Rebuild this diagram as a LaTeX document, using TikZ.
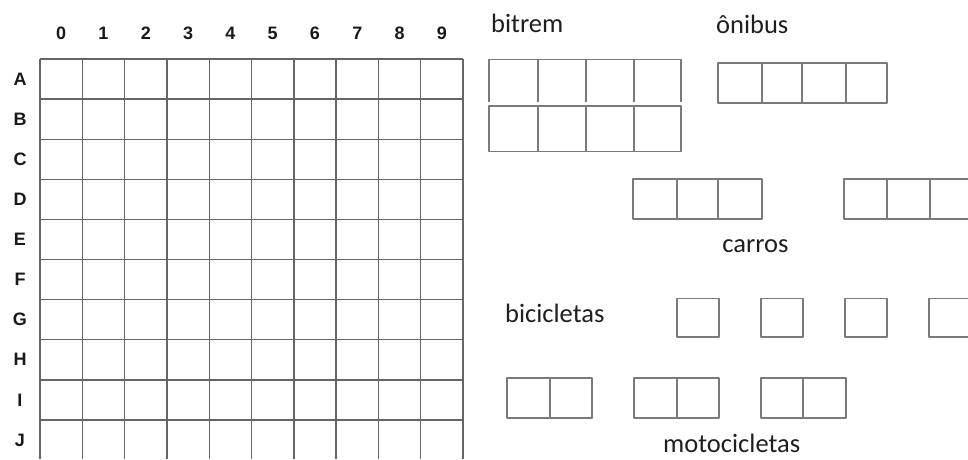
\documentclass[tikz,border=0pt]{standalone}
\usepackage{fontspec}
\setmainfont{Carlito}
\newfontfamily\gridfont{Liberation Sans}
\begin{document}
\begin{tikzpicture}[x=1pt,y=-1pt,
  gridline/.style={draw=black!60, line width=1.4pt},
  boxline/.style={draw=black!52, line width=1.4pt, line join=round},
  glabel/.style={font=\gridfont\bfseries\fontsize{18}{18}\selectfont, text=black!90, inner sep=0pt},
  vlabel/.style={font=\fontsize{26.5}{26.5}\selectfont, text=black!88, inner sep=0pt, anchor=base west}]
\useasboundingbox (0,0) rectangle (968,459);
\fill[white] (0,0) rectangle (968,459);
% grid
\foreach \k in {0,...,10} {
  \draw[gridline] ({40+42.3*\k},59) -- ({40+42.3*\k},459);
}
\foreach \k in {0,...,9} {
  \draw[gridline] (40,{59+40.1*\k}) -- (463,{59+40.1*\k});
}
\foreach \d in {0,...,9} {
  \node[glabel] (col\d) at ({61.2+42.3*\d},33) {\d};
}
\foreach \r [count=\i from 0] in {A,B,C,D,E,F,G,H,I,J} {
  \node[glabel] (row\r) at (20,{79+40.1*\i}) {\r};
}
% bitrem
\node[vlabel] (bitrem) at (491,32) {bitrem};
\draw[boxline] (489,101.5) -- (489,59.5) -- (681,59.5) -- (681,101.5);
\foreach \x in {538,586,634} \draw[boxline] (\x,59.5) -- (\x,101.5);
\draw[boxline] (489,106) rectangle (681,151.5);
\foreach \x in {538,586,634} \draw[boxline] (\x,106) -- (\x,151.5);
% onibus
\node[vlabel] (onibus) at (716,33) {ônibus};
\draw[boxline] (718,63) rectangle (887,103);
\foreach \x in {762,802,846} \draw[boxline] (\x,63) -- (\x,103);
% carros
\draw[boxline] (633,179) rectangle (762,219);
\foreach \x in {677,718} \draw[boxline] (\x,179) -- (\x,219);
\draw[boxline] (968,179) -- (844,179) -- (844,219) -- (968,219);
\foreach \x in {887,930} \draw[boxline] (\x,179) -- (\x,219);
\node[vlabel, anchor=base] (carros) at (755.5,252) {carros};
% bicicletas
\node[vlabel] (bicicletas) at (505,322) {bicicletas};
\draw[boxline] (677,298.5) rectangle (719,337);
\draw[boxline] (761,298.5) rectangle (803,337);
\draw[boxline] (845,298.5) rectangle (887,337);
\draw[boxline] (968,298.5) -- (929,298.5) -- (929,337) -- (968,337);
% motocicletas
\draw[boxline] (507,378) rectangle (592,418);
\draw[boxline] (550,378) -- (550,418);
\draw[boxline] (634,378) rectangle (719,418);
\draw[boxline] (677,378) -- (677,418);
\draw[boxline] (761,378) rectangle (846,418);
\draw[boxline] (803,378) -- (803,418);
\node[vlabel] (motocicletas) at (663,452) {motocicletas};
\end{tikzpicture}
\end{document}
